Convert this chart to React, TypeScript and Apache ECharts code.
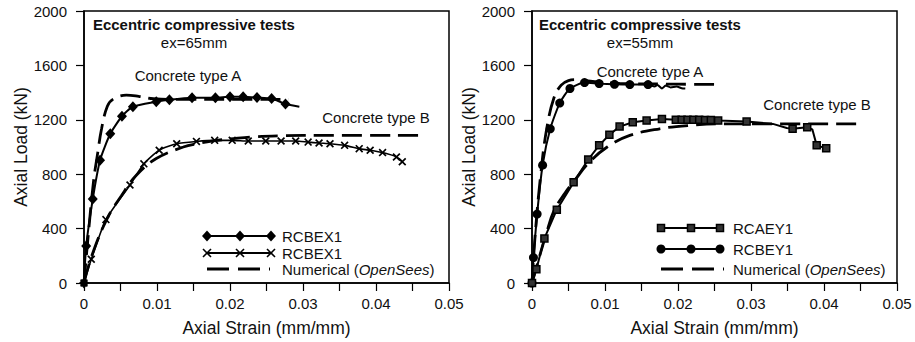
import React, { useEffect, useRef } from "react";
import * as echarts from "echarts";

// ---------- data (strain mm/mm, load kN) ----------
const xTicks = [0, 0.01, 0.02, 0.03, 0.04, 0.05];
const yTicks = [0, 400, 800, 1200, 1600, 2000];

// Left panel (ex = 65 mm)
const rcbex1A: [number, number][] = [
  [0, 0], [0.0003, 272], [0.0012, 617], [0.0022, 903], [0.0036, 1097], [0.0052, 1226],
  [0.0067, 1296], [0.0099, 1332], [0.0117, 1347], [0.0148, 1362], [0.018, 1362],
  [0.02, 1369], [0.0218, 1369], [0.0237, 1364], [0.0257, 1357], [0.0276, 1316],
];
const rcbex1AEnd: [number, number][] = [[0.0295, 1296]];
const rcbex1B: [number, number][] = [
  [0, 0], [0.001, 175], [0.003, 466], [0.0063, 721], [0.0082, 876], [0.0103, 976],
  [0.0127, 1024], [0.0154, 1041], [0.0179, 1049], [0.0203, 1049], [0.0225, 1044],
  [0.0249, 1044], [0.027, 1044], [0.029, 1044], [0.0307, 1036], [0.0322, 1029],
  [0.0337, 1024], [0.0357, 1012], [0.0377, 988], [0.0392, 976], [0.0409, 959],
  [0.0428, 927], [0.0436, 891],
];
const numLeftA: [number, number][] = [
  [0, 0], [0.00055, 333], [0.0013, 745], [0.0019, 964], [0.0024, 1133], [0.0032, 1300],
  [0.004, 1352], [0.0058, 1381], [0.0075, 1372], [0.0095, 1355], [0.013, 1350],
  [0.02, 1350], [0.028, 1350],
];
const numLeftB: [number, number][] = [
  [0, 0], [0.001, 190], [0.0031, 466], [0.0051, 640], [0.0072, 794], [0.0099, 915],
  [0.0136, 1000], [0.0155, 1025], [0.0177, 1045], [0.0205, 1062], [0.0232, 1075],
  [0.027, 1083], [0.03, 1085], [0.0464, 1085],
];

// Right panel (ex = 55 mm)
const rcbey1: [number, number][] = [
  [0, 0], [0.0002, 187], [0.0007, 507], [0.00145, 866], [0.0025, 1134], [0.0038, 1323],
  [0.0052, 1430], [0.0072, 1474], [0.0092, 1466], [0.0113, 1461], [0.0134, 1459],
  [0.0159, 1459],
];
const rcbey1Tail: [number, number][] = [
  [0.0168, 1445], [0.0172, 1456], [0.0178, 1430], [0.0183, 1452], [0.019, 1438],
  [0.0198, 1445], [0.0205, 1432], [0.021, 1430],
];
const rcaey1: [number, number][] = [
  [0, 0], [0.0006, 102], [0.0017, 328], [0.0034, 539], [0.0057, 740], [0.0077, 908],
  [0.0092, 1012], [0.0106, 1090], [0.012, 1150], [0.0138, 1182], [0.0157, 1194],
  [0.0178, 1206], [0.0197, 1201], [0.0205, 1200], [0.0213, 1200], [0.0221, 1200],
  [0.0229, 1200], [0.0237, 1198], [0.0245, 1198], [0.0255, 1194], [0.0294, 1187],
];
const rcaey1Bends: [number, number][] = [[0.033, 1170], [0.0349, 1140]];
const rcaey1Tail: [number, number][] = [[0.0357, 1134], [0.0377, 1146]];
const rcaey1Drop: [number, number][] = [[0.0384, 1130]];
const rcaey1End: [number, number][] = [[0.039, 1012], [0.0403, 990]];
const numRightA: [number, number][] = [
  [0, 0], [0.0005, 400], [0.0012, 800], [0.002, 1130], [0.003, 1360], [0.004, 1455],
  [0.005, 1488], [0.006, 1495], [0.008, 1485], [0.012, 1468], [0.02, 1462], [0.0255, 1460],
];
const numRightB: [number, number][] = [
  [0, 0], [0.001, 190], [0.002, 370], [0.003, 530], [0.0045, 660], [0.006, 765],
  [0.0077, 880], [0.0103, 1000], [0.0134, 1085], [0.0175, 1134], [0.0214, 1158],
  [0.026, 1170], [0.045, 1170],
];

const FONT = "'Liberation Sans', Arial, sans-serif";
const TITLE = "Eccentric compressive tests";
const TITLE_TARGET_WIDTH = 202;
const X_SYMBOL =
  "path://M0,1.5L1.5,0L5,3.5L8.5,0L10,1.5L6.5,5L10,8.5L8.5,10L5,6.5L1.5,10L0,8.5L3.5,5Z";

const noSym = (pts: [number, number][]) => pts.map((p) => ({ value: p, symbol: "none" }));

function titleScale(): number {
  try {
    const ctx = document.createElement("canvas").getContext("2d");
    if (!ctx) return 1;
    ctx.font = `bold 15px ${FONT}`;
    const w = ctx.measureText(TITLE).width;
    if (!w) return 1;
    return Math.min(1.3, Math.max(0.85, TITLE_TARGET_WIDTH / w));
  } catch (e) {
    return 1;
  }
}

function axisPair(idx: number) {
  const x = {
    type: "value",
    gridIndex: idx,
    min: 0,
    max: 0.05,
    interval: 0.01,
    name: "Axial Strain (mm/mm)",
    nameLocation: "middle",
    nameGap: 36,
    nameTextStyle: { fontFamily: FONT, fontSize: 17.5, color: "#111" },
    axisLine: { show: true, onZero: false, lineStyle: { color: "#000", width: 1.5 } },
    axisTick: { show: true, inside: false, length: 8, lineStyle: { color: "#000", width: 1.2 } },
    minorTick: { show: true, splitNumber: 2, length: 8, lineStyle: { color: "#000", width: 1.2 } },
    splitLine: { show: false },
    axisLabel: {
      fontFamily: FONT,
      fontSize: 15,
      color: "#111",
      margin: 13,
      formatter: (v: number) => {
        const t = xTicks.find((k) => Math.abs(k - v) < 1e-9);
        return t === undefined ? "" : String(t);
      },
    },
  };
  const y = {
    type: "value",
    gridIndex: idx,
    min: 0,
    max: 2000,
    interval: 400,
    name: "Axial Load (kN)",
    nameLocation: "middle",
    nameGap: 50,
    nameTextStyle: { fontFamily: FONT, fontSize: 17.5, color: "#111" },
    axisLine: { show: true, lineStyle: { color: "#000", width: 1.5 } },
    axisTick: { show: true, inside: false, length: 8, lineStyle: { color: "#000", width: 1.2 } },
    splitLine: { show: false },
    axisLabel: {
      fontFamily: FONT,
      fontSize: 15,
      color: "#111",
      margin: 17,
      formatter: (v: number) => {
        const t = yTicks.find((k) => k === v);
        return t === undefined ? "" : String(t);
      },
    },
  };
  return { x, y };
}

function solid(idx: number, data: any[], symbol: string, size: any, extra: any = {}) {
  return {
    type: "line",
    xAxisIndex: idx,
    yAxisIndex: idx,
    data,
    symbol,
    symbolSize: size,
    showAllSymbol: true,
    smooth: 0.2,
    z: 3,
    lineStyle: { color: "#000", width: 2 },
    itemStyle: { color: "#000", borderColor: "#000", borderWidth: 0 },
    ...extra,
  };
}

function dashed(idx: number, data: any[]) {
  return {
    type: "line",
    xAxisIndex: idx,
    yAxisIndex: idx,
    data,
    symbol: "none",
    smooth: 0.4,
    z: 2,
    lineStyle: { color: "#000", width: 2.8, type: [20, 8] },
  };
}

function txt(x: number, y: number, text: string, extra: any = {}, el: any = {}) {
  return {
    type: "text",
    x,
    y,
    ...el,
    style: {
      text,
      fontFamily: FONT,
      fontSize: 15,
      fill: "#111",
      verticalAlign: "middle",
      align: "left",
      ...extra,
    },
  };
}

function legendLine(x1: number, x2: number, y: number, dash?: number[]) {
  return {
    type: "line",
    shape: { x1, y1: y, x2, y2: y },
    style: { stroke: "#000", lineWidth: dash ? 2.8 : 2, lineDash: dash || null },
  };
}

function diamond(cx: number, cy: number) {
  return {
    type: "polygon",
    shape: { points: [[cx, cy - 5.5], [cx + 5, cy], [cx, cy + 5.5], [cx - 5, cy]] },
    style: { fill: "#000" },
  };
}
function cross(cx: number, cy: number) {
  return {
    type: "group",
    children: [
      { type: "line", shape: { x1: cx - 4, y1: cy - 4, x2: cx + 4, y2: cy + 4 }, style: { stroke: "#000", lineWidth: 1.6 } },
      { type: "line", shape: { x1: cx - 4, y1: cy + 4, x2: cx + 4, y2: cy - 4 }, style: { stroke: "#000", lineWidth: 1.6 } },
    ],
  };
}
function dot(cx: number, cy: number) {
  return { type: "circle", shape: { cx, cy, r: 4.5 }, style: { fill: "#000" } };
}
function sq(cx: number, cy: number) {
  return {
    type: "rect",
    shape: { x: cx - 3.5, y: cy - 3.5, width: 7, height: 7 },
    style: { fill: "#333", stroke: "#000", lineWidth: 1.5 },
  };
}

const numericalRich = {
  text: "{a|Numerical (}{b|OpenSees}{a|)}",
  rich: {
    a: { fontFamily: FONT, fontSize: 15, fill: "#111" },
    b: { fontFamily: FONT, fontSize: 15, fill: "#111", fontStyle: "italic" },
  },
};

export default function App() {
  const ref = useRef<HTMLDivElement>(null);
  useEffect(() => {
    if (!ref.current) return;
    const chart = echarts.init(ref.current, undefined, { renderer: "svg" });
    const L = axisPair(0);
    const R = axisPair(1);
    const grid = { show: true, borderColor: "#000", borderWidth: 1.5, backgroundColor: "transparent" };
    const ts = titleScale();

    const graphic: any[] = [
      // left panel annotations
      txt(93, 24, TITLE, { fontWeight: "bold" }, { scaleX: ts }),
      txt(194, 42, "ex=65mm", { align: "center" }),
      txt(188, 75, "Concrete type A", { align: "center" }),
      txt(376, 117, "Concrete type B", { align: "center" }),
      // right panel annotations
      txt(539, 24, TITLE, { fontWeight: "bold" }, { scaleX: ts }),
      txt(640, 42, "ex=55mm", { align: "center" }),
      txt(650, 71, "Concrete type A", { align: "center" }),
      txt(817, 104, "Concrete type B", { align: "center" }),
      // left legend
      legendLine(207, 271, 236),
      diamond(207, 236), diamond(240, 236), diamond(271, 236),
      txt(282, 236, "RCBEX1"),
      legendLine(207, 271, 253),
      cross(207, 253), cross(240, 253), cross(271, 253),
      txt(282, 253, "RCBEX1"),
      legendLine(207, 270, 269, [22, 9]),
      { type: "text", x: 282, y: 269, style: { ...numericalRich, verticalAlign: "middle" } },
      // right legend
      legendLine(661, 720, 228),
      sq(661, 228), sq(691, 228), sq(720, 228),
      txt(733, 228, "RCAEY1"),
      legendLine(661, 720, 249),
      dot(661, 249), dot(691, 249), dot(720, 249),
      txt(733, 249, "RCBEY1"),
      legendLine(661, 724, 269, [22, 9]),
      { type: "text", x: 733, y: 269, style: { ...numericalRich, verticalAlign: "middle" } },
    ];

    chart.setOption({
      animation: false,
      backgroundColor: "#fff",
      grid: [
        { ...grid, left: 84, right: 466, top: 11, bottom: 56 },
        { ...grid, left: 532, right: 18, top: 11, bottom: 56 },
      ],
      xAxis: [L.x, R.x],
      yAxis: [L.y, R.y],
      series: [
        dashed(0, numLeftA),
        dashed(0, numLeftB),
        solid(0, [...rcbex1A, ...noSym(rcbex1AEnd)], "diamond", [10, 11]),
        solid(0, rcbex1B, X_SYMBOL, 8, { lineStyle: { color: "#000", width: 1.6 } }),
        dashed(1, numRightA),
        dashed(1, numRightB),
        solid(1, [...rcbey1, ...noSym(rcbey1Tail)], "circle", 9),
        solid(
          1,
          [...rcaey1, ...noSym(rcaey1Bends), ...rcaey1Tail, ...noSym(rcaey1Drop), ...rcaey1End],
          "rect",
          7,
          { smooth: false, itemStyle: { color: "#333", borderColor: "#000", borderWidth: 1.5 } }
        ),
      ],
      graphic,
    });
    return () => chart.dispose();
  }, []);
  return <div ref={ref} style={{ width: 915, height: 342, position: "absolute", left: 0, top: 0 }} />;
}
